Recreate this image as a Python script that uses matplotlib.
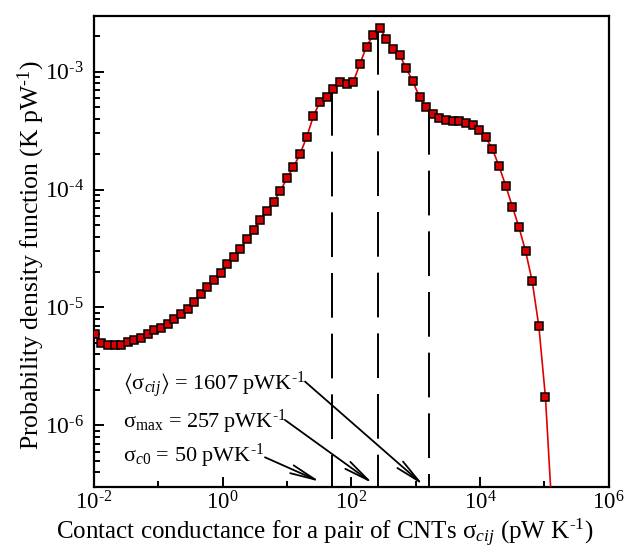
import numpy as np
import matplotlib
matplotlib.use("Agg")
import matplotlib.pyplot as plt
from matplotlib.ticker import LogLocator, NullFormatter, FixedLocator, FuncFormatter

plt.rcParams["font.family"] = ["Liberation Serif", "DejaVu Serif"]
plt.rcParams["mathtext.fontset"] = "custom"
plt.rcParams["mathtext.rm"] = "Liberation Serif"
plt.rcParams["mathtext.it"] = "Liberation Serif:italic"
plt.rcParams["mathtext.bf"] = "Liberation Serif:bold"
plt.rcParams["mathtext.fallback"] = "stix"

# Contact conductance bins (pW/K) and probability density (K/pW)
sigma = [0.0102, 0.0130, 0.0164, 0.0209, 0.0264, 0.0335, 0.0425, 0.0538, 0.0684, 0.0867,
         0.110, 0.139, 0.177, 0.224, 0.284, 0.360, 0.456, 0.578, 0.733, 0.929,
         1.18, 1.49, 1.89, 2.40, 3.04, 3.86, 4.89, 6.20, 7.86, 9.97,
         12.6, 16.0, 20.3, 25.8, 32.6, 41.4, 52.5, 66.5, 84.3, 107,
         135, 172, 218, 276, 350, 444, 562, 714, 905, 1148,
         1455, 1845, 2339, 2965, 3758, 4764, 6039, 7656, 9705, 12303,
         15596, 19770, 25061, 31769, 40272, 51051, 64715, 82035, 103992, 131826]
pdf = [6.01e-6, 4.99e-6, 4.76e-6, 4.83e-6, 4.83e-6, 5.05e-6, 5.32e-6, 5.46e-6, 6.01e-6, 6.47e-6,
       6.73e-6, 7.31e-6, 7.91e-6, 8.77e-6, 9.73e-6, 1.109e-5, 1.295e-5, 1.493e-5, 1.711e-5, 1.95e-5,
       2.36e-5, 2.68e-5, 3.13e-5, 3.80e-5, 4.55e-5, 5.57e-5, 6.64e-5, 7.92e-5, 9.73e-5, 1.247e-4,
       1.56e-4, 2.01e-4, 2.81e-4, 4.22e-4, 5.57e-4, 6.11e-4, 7.08e-4, 8.15e-4, 7.92e-4, 8.18e-4,
       1.153e-3, 1.637e-3, 2.04e-3, 2.37e-3, 1.89e-3, 1.556e-3, 1.394e-3, 1.067e-3, 8.28e-4, 6.07e-4,
       4.99e-4, 4.39e-4, 4.06e-4, 3.89e-4, 3.83e-4, 3.82e-4, 3.71e-4, 3.54e-4, 3.20e-4, 2.77e-4,
       2.20e-4, 1.58e-4, 1.081e-4, 7.18e-5, 4.80e-5, 3.01e-5, 1.667e-5, 6.95e-6, 1.73e-6, 1.80e-7]

# Characteristic conductances (pW/K)
sigma_c0 = 50
sigma_max = 257
sigma_mean = 1607

x_ticks_major = [1e-2, 1e0, 1e2, 1e4, 1e6]
x_ticks_minor = [1e-1, 1e1, 1e3, 1e5]

fig = plt.figure(figsize=(6.28, 5.52), dpi=100)
ax = fig.add_axes([94 / 628, 1 - 487 / 552, (608.7 - 94) / 628, (487 - 15.5) / 552])

ax.set_xscale("log")
ax.set_yscale("log")
ax.set_xlim(1e-2, 1e6)
ax.set_ylim(3e-7, 3e-3)

ax.plot(sigma, pdf, color="#e00000", lw=1.2, marker="s", ms=5.6,
        mfc="#d80000", mec="black", mew=1.1, zorder=3, clip_on=True)

# Dashed markers from the curve down to the axis
lx = np.log10(sigma)
ly = np.log10(pdf)
for s in (sigma_c0, sigma_max, sigma_mean):
    top = 10 ** np.interp(np.log10(s), lx, ly)
    ax.plot([s, s], [top, 3e-7], color="black", lw=1.4,
            linestyle=(0, (23, 8.2)), zorder=2, dash_capstyle="butt")

# Annotations
fs = 16
ax.text(0.0563, 0.2057, r"$\langle$σ$_{cij}\rangle$ = " + f"{sigma_mean}" + r" pWK$^{\text{-}1}$",
        transform=ax.transAxes, fontsize=fs, va="baseline", ha="left")
ax.text(0.0563, 0.1266, r"σ$_{\mathrm{max}}$ = " + f"{sigma_max}" + r" pWK$^{\text{-}1}$",
        transform=ax.transAxes, fontsize=fs, va="baseline", ha="left")
ax.text(0.0563, 0.0537, r"σ$_{c0}$ = " + f"{sigma_c0}" + r" pWK$^{\text{-}1}$",
        transform=ax.transAxes, fontsize=fs, va="baseline", ha="left")

arrow_kw = dict(arrowstyle="->,head_length=1.3,head_width=0.22", color="black",
                lw=1.3, shrinkA=0, shrinkB=0, mutation_scale=14)
for tail, tip in [((0.410, 0.2236), (0.6398, 0.0042)),
                  ((0.3711, 0.1421), (0.5415, 0.0078)),
                  ((0.3322, 0.0630), (0.4391, 0.0112))]:
    ax.annotate("", xy=tip, xytext=tail, xycoords="axes fraction",
                textcoords="axes fraction", arrowprops=arrow_kw)


def pow10(v, pos):
    e = int(round(np.log10(v)))
    if e < 0:
        return r"$\mathdefault{10^{\text{-}%d}}$" % (-e)
    return r"$\mathdefault{10^{%d}}$" % e


# Axes styling
for sp in ax.spines.values():
    sp.set_linewidth(1.6)
ax.xaxis.set_major_locator(FixedLocator(x_ticks_major))
ax.xaxis.set_minor_locator(FixedLocator(x_ticks_minor))
ax.xaxis.set_major_formatter(FuncFormatter(pow10))
ax.xaxis.set_minor_formatter(NullFormatter())
ax.yaxis.set_major_locator(LogLocator(base=10, numticks=10))
ax.yaxis.set_major_formatter(FuncFormatter(pow10))
ax.yaxis.set_minor_locator(LogLocator(base=10, subs=np.arange(2, 10), numticks=20))
ax.yaxis.set_minor_formatter(NullFormatter())
ax.tick_params(which="both", direction="in", top=False, right=False, width=1.4,
               labelsize=17)
ax.tick_params(which="major", length=7, pad=7)
ax.tick_params(which="minor", length=4)
ax.tick_params(axis="x", which="major", pad=3, labelsize=16.5)

ax.set_xlabel(r"Contact conductance for a pair of CNTs σ$_{cij}$ (pW K$^{\text{-}1}$)",
              fontsize=18)
ax.set_ylabel(r"Probability density function (K pW$^{\text{-}1}$)", fontsize=18.5)
ax.xaxis.set_label_coords(0.449, -0.063)
ax.yaxis.set_label_coords(-0.092, 0.492)

fig.savefig("out.png", dpi=100)
